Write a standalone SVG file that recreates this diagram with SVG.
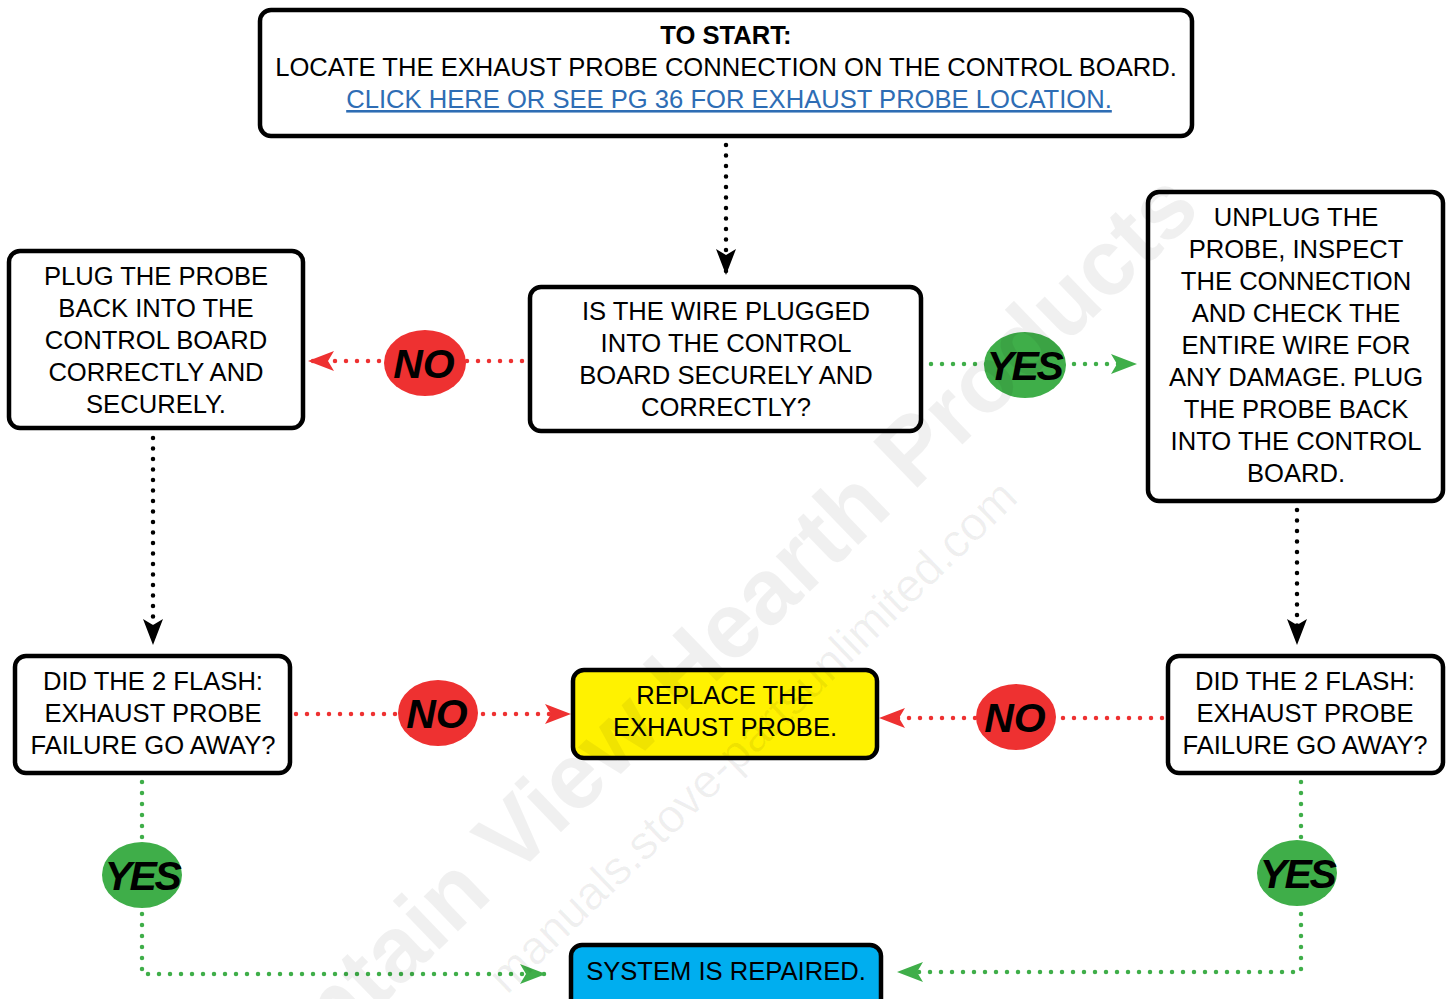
<svg xmlns="http://www.w3.org/2000/svg" width="1447" height="999" viewBox="0 0 1447 999">
<style>
.box{fill:#fff;stroke:#000;stroke-width:4.5}
.t{font-family:"Liberation Sans",Arial,sans-serif;font-size:25.6px;fill:#000;text-anchor:middle}
.lbl{font-family:"Liberation Sans",Arial,sans-serif;font-size:41px;font-weight:bold;font-style:italic;fill:#000;text-anchor:middle}
.dk{fill:none;stroke:#000;stroke-width:4.5;stroke-linecap:round;stroke-dasharray:0 10.5}
.dr{fill:none;stroke:#ee3131;stroke-width:4.5;stroke-linecap:round;stroke-dasharray:0 11}
.dg{fill:none;stroke:#3fae49;stroke-width:4.5;stroke-linecap:round;stroke-dasharray:0 11}
.wm{font-family:"Liberation Sans",Arial,sans-serif;fill:#000;fill-opacity:0.06}
</style>
<defs>
<marker id="ak" viewBox="0 0 26 20" refX="26" refY="10" markerWidth="26" markerHeight="20" markerUnits="userSpaceOnUse" orient="auto"><path d="M0,0 L26,10 L0,20 L6,10 Z" fill="#000"/></marker>
<marker id="ar" viewBox="0 0 26 20" refX="26" refY="10" markerWidth="26" markerHeight="20" markerUnits="userSpaceOnUse" orient="auto"><path d="M0,0 L26,10 L0,20 L6,10 Z" fill="#ee3131"/></marker>
<marker id="ag" viewBox="0 0 26 20" refX="26" refY="10" markerWidth="26" markerHeight="20" markerUnits="userSpaceOnUse" orient="auto"><path d="M0,0 L26,10 L0,20 L6,10 Z" fill="#3fae49"/></marker>
</defs>

<g id="connectors">
<path class="dk" d="M726,145 L726,275" marker-end="url(#ak)"/>
<path class="dk" d="M153,438 L153,645" marker-end="url(#ak)"/>
<path class="dk" d="M1297,510 L1297,645" marker-end="url(#ak)"/>
<path class="dr" d="M522,361 L308,361" marker-end="url(#ar)"/>
<path class="dg" d="M931,364 L1137,364" marker-end="url(#ag)"/>
<path class="dr" d="M296,714 L571,714" marker-end="url(#ar)"/>
<path class="dr" d="M1162,718 L879,718" marker-end="url(#ar)"/>
<path class="dg" d="M142,782 L142,974 L546,974" marker-end="url(#ag)"/>
<path class="dg" d="M1301,782 L1301,972 L897,972" marker-end="url(#ag)"/>
<g id="lbl-no1"><ellipse cx="425" cy="363" rx="41" ry="33" fill="#ee3131"/><text class="lbl" x="424" y="378">NO</text></g>
<g id="lbl-yes1"><ellipse cx="1025" cy="365" rx="41" ry="33" fill="#3fae49"/><text class="lbl" x="1024" y="380" letter-spacing="-2.5">YES</text></g>
<g id="lbl-no2"><ellipse cx="438" cy="713" rx="40" ry="33" fill="#ee3131"/><text class="lbl" x="437" y="728">NO</text></g>
<g id="lbl-no3"><ellipse cx="1016" cy="717" rx="40" ry="33" fill="#ee3131"/><text class="lbl" x="1015" y="732">NO</text></g>
<g id="lbl-yes2"><ellipse cx="142" cy="875" rx="40" ry="33" fill="#3fae49"/><text class="lbl" x="142" y="890" letter-spacing="-2.5">YES</text></g>
<g id="lbl-yes3"><ellipse cx="1297" cy="873" rx="40" ry="33" fill="#3fae49"/><text class="lbl" x="1297" y="888" letter-spacing="-2.5">YES</text></g>
</g>

<g id="start">
<rect class="box" x="260" y="10" width="932" height="126" rx="11"/>
<text class="t" x="726" y="44" font-weight="bold">TO START:</text>
<text class="t" x="726" y="76">LOCATE THE EXHAUST PROBE CONNECTION ON THE CONTROL BOARD.</text>
<text class="t" x="729" y="108" style="fill:#2e6db4" text-decoration="underline">CLICK HERE OR SEE PG 36 FOR EXHAUST PROBE LOCATION. </text>
</g>

<g id="question1">
<rect class="box" x="530" y="287" width="391" height="144" rx="11"/>
<text class="t" x="726" y="320">IS THE WIRE PLUGGED</text>
<text class="t" x="726" y="352">INTO THE CONTROL</text>
<text class="t" x="726" y="384">BOARD SECURELY AND</text>
<text class="t" x="726" y="416">CORRECTLY?</text>
</g>

<g id="plug-back">
<rect class="box" x="9" y="251" width="294" height="177" rx="11"/>
<text class="t" x="156" y="285">PLUG THE PROBE</text>
<text class="t" x="156" y="317">BACK INTO THE</text>
<text class="t" x="156" y="349">CONTROL BOARD</text>
<text class="t" x="156" y="381">CORRECTLY AND</text>
<text class="t" x="156" y="413">SECURELY.</text>
</g>

<g id="unplug">
<rect class="box" x="1148" y="192" width="295" height="309" rx="11"/>
<text class="t" x="1296" y="226">UNPLUG THE</text>
<text class="t" x="1296" y="258">PROBE, INSPECT</text>
<text class="t" x="1296" y="290">THE CONNECTION</text>
<text class="t" x="1296" y="322">AND CHECK THE</text>
<text class="t" x="1296" y="354">ENTIRE WIRE FOR</text>
<text class="t" x="1296" y="386">ANY DAMAGE. PLUG</text>
<text class="t" x="1296" y="418">THE PROBE BACK</text>
<text class="t" x="1296" y="450">INTO THE CONTROL</text>
<text class="t" x="1296" y="482">BOARD.</text>
</g>

<g id="question2">
<rect class="box" x="15" y="656" width="275" height="117" rx="11"/>
<text class="t" x="153" y="690">DID THE 2 FLASH:</text>
<text class="t" x="153" y="722">EXHAUST PROBE</text>
<text class="t" x="153" y="754">FAILURE GO AWAY?</text>
</g>

<g id="replace">
<rect class="box" x="573" y="670" width="304" height="88" rx="11" style="fill:#fff200"/>
<text class="t" x="725" y="704">REPLACE THE</text>
<text class="t" x="725" y="736">EXHAUST PROBE.</text>
</g>

<g id="question3">
<rect class="box" x="1168" y="656" width="275" height="117" rx="11"/>
<text class="t" x="1305" y="690">DID THE 2 FLASH:</text>
<text class="t" x="1305" y="722">EXHAUST PROBE</text>
<text class="t" x="1305" y="754">FAILURE GO AWAY?</text>
</g>

<g id="repaired">
<rect class="box" x="571" y="945" width="310" height="70" rx="11" style="fill:#00aeef"/>
<text class="t" x="726" y="980">SYSTEM IS REPAIRED.</text>
</g>

<g id="watermark">
<text class="wm" x="1203" y="212" text-anchor="end" font-size="93" font-weight="bold" transform="rotate(-44 1203 212)">Mountain View Hearth Products</text>
<text class="wm" x="1020" y="500" text-anchor="end" font-size="47" transform="rotate(-44 1020 500)">manuals.stove-partsunlimited.com</text>
</g>
</svg>
